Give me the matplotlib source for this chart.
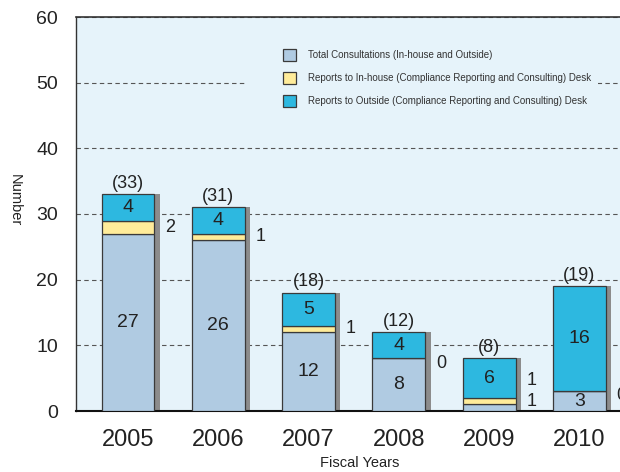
import matplotlib
matplotlib.use("Agg")
import matplotlib.pyplot as plt
from matplotlib.patches import Rectangle
import numpy as np

years = ["2005", "2006", "2007", "2008", "2009", "2010"]
total_consult = [27, 26, 12, 8, 1, 3]
inhouse = [2, 1, 1, 0, 1, 0]
outside = [4, 4, 5, 4, 6, 16]
totals = [33, 31, 18, 12, 8, 19]
legend_labels = ["Total Consultations (In-house and Outside)",
                 "Reports to In-house (Compliance Reporting and Consulting) Desk",
                 "Reports to Outside (Compliance Reporting and Consulting) Desk"]

plt.rcParams['font.family'] = ['Liberation Sans', 'DejaVu Sans']

c_light = "#B0CBE2"
c_yellow = "#FFEC9A"
c_cyan = "#2DB8E0"
c_bg = "#E6F3FA"
c_shadow = "#8C8C8C"
c_edge = "#3A3A3A"

fig = plt.figure(figsize=(6.2, 4.72), dpi=100)
ax = fig.add_axes([76/620, 1-411/472, 1-76/620, (411-17)/472])
ax.set_facecolor(c_bg)

x = np.arange(len(years))
w = 0.587
sw = 0.06

a = np.array(total_consult)
b = np.array(inhouse)
c = np.array(outside)

ax.bar(x + w/2 + sw/2, a + b + c, width=sw, color=c_shadow, zorder=2, linewidth=0)
ax.bar(x, a, width=w, color=c_light, edgecolor=c_edge, linewidth=0.9, zorder=3)
ax.bar(x, b, width=w, bottom=a, color=c_yellow, edgecolor=c_edge, linewidth=0.9, zorder=3)
ax.bar(x, c, width=w, bottom=a + b, color=c_cyan, edgecolor=c_edge, linewidth=0.9, zorder=3)

tc = "#222222"
for i in range(len(years)):
    if a[i] >= 2:
        ax.text(x[i], a[i] / 2, str(a[i]), ha='center', va='center', fontsize=14, color=tc, zorder=5)
    else:
        ax.text(x[i] + 0.47, a[i] / 2 + 0.9, str(a[i]), ha='center', va='center', fontsize=13, color=tc, zorder=5)
    ax.text(x[i], a[i] + b[i] + c[i] / 2, str(c[i]), ha='center', va='center', fontsize=14, color=tc, zorder=5)
    ylab = a[i] + b[i] / 2
    if b[i] == 0:
        ylab = a[i] - 0.7
    if a[i] < 2:
        ylab = a[i] + b[i] + 2.6
    ax.text(x[i] + 0.47, ylab, str(b[i]), ha='center', va='center', fontsize=13, color=tc, zorder=5)
    ax.text(x[i], totals[i] + 0.4, "(%d)" % totals[i], ha='center', va='bottom', fontsize=13, color=tc, zorder=5)

ax.set_xlim(-0.576, 5.45)
ax.set_ylim(0, 60)
ax.set_yticks(np.arange(0, 61, 10))
ax.set_xticks(x)
ax.set_xticklabels(years, fontsize=17, color=tc)
ax.tick_params(axis='y', length=0, pad=13, labelsize=14, labelcolor=tc)
ax.tick_params(axis='x', length=0, pad=13)
ax.yaxis.grid(True, linestyle=(0, (4, 3)), color="#555555", linewidth=0.8)
ax.set_axisbelow(True)
ax.spines['right'].set_visible(False)
ax.spines['top'].set_color("#333333")
ax.spines['top'].set_linewidth(1.2)
ax.spines['left'].set_color("#333333")
ax.spines['left'].set_linewidth(1.0)
ax.spines['bottom'].set_color("#111111")
ax.spines['bottom'].set_linewidth(1.5)

fig.text(15/620, 1-200/472, "Number", rotation=270, ha='center', va='center', fontsize=10.5, color=tc)
fig.text(360/620, 1-463/472, "Fiscal Years", ha='center', va='center', fontsize=10.5, color=tc)

ax.add_patch(Rectangle((245/620, 1-118/472), (598-245)/620, (118-35)/472,
                       transform=fig.transFigure, facecolor=c_bg, edgecolor='none', zorder=1))

handles = [Rectangle((0, 0), 1, 1, facecolor=col, edgecolor=c_edge, linewidth=0.9)
           for col in (c_light, c_yellow, c_cyan)]
leg = ax.legend(handles, legend_labels, loc='upper left', bbox_to_anchor=((283-76)/544 - 0.005, 1 - 29/394),
                frameon=False,
                prop={'family': ['Liberation Sans'], 'size': 7.0},
                handlelength=1.27, handleheight=1.47, labelspacing=1.18, handletextpad=1.3,
                borderpad=0.3, borderaxespad=0)
for t in leg.get_texts():
    t.set_color("#333333")
leg.set_zorder(10)

fig.savefig("out.png", dpi=100)
